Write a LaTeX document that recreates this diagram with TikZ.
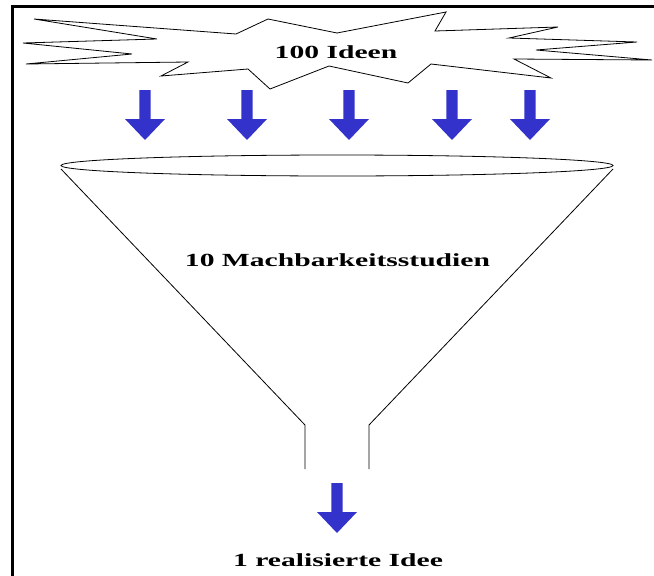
\documentclass[tikz,border=0pt]{standalone}
\usepackage{fontspec}
\usepackage{graphicx}
\setmainfont{Liberation Serif}
\definecolor{arrowblue}{HTML}{3333CC}
\tikzset{
  burst/.style={draw=black, line width=0.8pt, line join=miter, fill=white},
  outline/.style={draw=black, line width=0.8pt},
  frameline/.style={draw=black, line width=3pt},
  label/.style={font=\fontsize{18.5}{21}\selectfont\bfseries, inner sep=0pt},
  blockarrow/.pic={
    \fill[arrowblue] (-5.6,0) -- (5.6,0) -- (5.6,29) -- (20,29) -- (0,50)
      -- (-20,29) -- (-5.6,29) -- cycle;
  }
}
\newcommand{\wide}[1]{\scalebox{1.6}[1]{#1}}
\begin{document}
\begin{tikzpicture}[x=1pt, y=-1pt]
  \useasboundingbox (0,0) rectangle (654,576);
  % frame on the left and top
  \draw[frameline] (12,576) -- (12,6) -- (654,6);

  % starburst with the ideas
  \draw[burst] (34,19) -- (236,34) -- (268,19) -- (337,33) -- (446,12)
    -- (435,31) -- (558,27) -- (509,38) -- (637,42) -- (536,50) -- (652,60)
    -- (514,59) -- (551,78) -- (431,64) -- (408,83) -- (329,66) -- (270,89)
    -- (248,69) -- (161,76) -- (188,62) -- (26,64) -- (132,54) -- (23,43)
    -- (157,39) -- cycle;
  \node[label] (ideas) at (336,52) {\wide{100 Ideen}};

  % arrows into the funnel
  \pic (a1) at (145,90) {blockarrow};
  \pic (a2) at (247,90) {blockarrow};
  \pic (a3) at (349,90) {blockarrow};
  \pic (a4) at (452,90) {blockarrow};
  \pic (a5) at (530,90) {blockarrow};

  % funnel
  \draw[outline] (337,165.5) ellipse [x radius=276, y radius=10.5];
  \draw[outline] (61,169) -- (305,425) -- (305,469);
  \draw[outline] (613,169) -- (369,425) -- (369,469);
  \node[label] (studies) at (337.5,260) {\wide{10 Machbarkeitsstudien}};

  % result
  \pic (a6) at (337,483) {blockarrow};
  \node[label] (result) at (338,560) {\wide{1 realisierte Idee}};
\end{tikzpicture}
\end{document}
